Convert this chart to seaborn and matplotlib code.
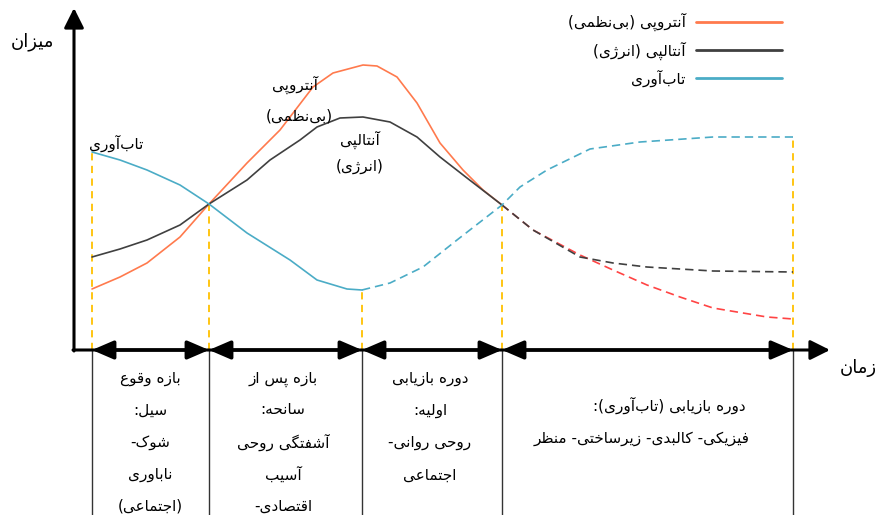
import numpy as np
import pandas as pd
import seaborn as sns
import matplotlib.pyplot as plt
from matplotlib.lines import Line2D

# time / level in conceptual units
entropy_t = [1.7, 4.5, 7.2, 10.5, 13.4, 17.2, 20.5, 21.5, 23.8, 25.8, 28.8, 30.2, 32.2, 34.2, 36.5, 38.8, 40.8, 42.7]
entropy_v = [6.1, 7.3, 8.7, 11.3, 14.6, 18.7, 22.0, 23.3, 26.3, 27.7, 28.5, 28.4, 27.3, 24.7, 20.7, 18.0, 16.0, 14.5]
entropy_future_t = [42.7, 45.8, 50.5, 53.8, 57.2, 60.5, 63.8, 69.2, 71.8]
entropy_future_v = [14.5, 12.0, 9.5, 8.0, 6.5, 5.3, 4.2, 3.3, 3.1]

enthalpy_t = [1.7, 4.5, 7.2, 10.5, 13.4, 17.2, 19.5, 22.5, 24.2, 26.5, 28.8, 31.5, 34.2, 36.5, 39.2, 42.7]
enthalpy_v = [9.3, 10.1, 11.0, 12.5, 14.6, 17.0, 19.0, 21.0, 22.3, 23.2, 23.3, 22.8, 21.3, 19.3, 17.2, 14.5]
enthalpy_future_t = [42.7, 45.8, 50.5, 53.8, 57.2, 63.8, 71.8]
enthalpy_future_v = [14.5, 12.0, 9.3, 8.7, 8.3, 7.9, 7.8]

resil_t = [1.7, 4.5, 7.2, 10.5, 13.4, 17.2, 21.5, 24.2, 27.2, 28.7]
resil_v = [19.8, 19.0, 18.0, 16.5, 14.6, 11.7, 9.0, 7.0, 6.1, 6.0]
resil_future_t = [28.7, 31.5, 34.8, 38.2, 42.7, 44.5, 47.2, 51.5, 56.5, 63.8, 71.8]
resil_future_v = [6.0, 6.7, 8.3, 11.0, 14.5, 16.3, 18.0, 20.1, 20.8, 21.3, 21.3]

phase_t = [1.7, 13.4, 28.7, 42.7, 71.8]

legend_labels = ['آنتروپی (بی‌نظمی)', 'آنتالپی (انرژی)', 'تاب‌آوری']
phase_texts = [
    ['بازه وقوع', 'سیل:', 'شوک-', 'ناباوری', '(اجتماعی)'],
    ['بازه پس از', 'سانحه:', 'آشفتگی روحی', 'آسیب', 'اقتصادی-'],
    ['دوره بازیابی', 'اولیه:', 'روحی روانی-', 'اجتماعی'],
    ['دوره بازیابی (تاب‌آوری):', 'فیزیکی- کالبدی- زیرساختی- منظر'],
]

# matplotlib does no arabic shaping, so pick presentation forms by hand
DUAL = {'ب': 0xFE8F, 'ت': 0xFE95, 'ث': 0xFE99, 'ج': 0xFE9D, 'ح': 0xFEA1, 'خ': 0xFEA5,
        'س': 0xFEB1, 'ش': 0xFEB5, 'ص': 0xFEB9, 'ض': 0xFEBD, 'ط': 0xFEC1, 'ظ': 0xFEC5,
        'ع': 0xFEC9, 'غ': 0xFECD, 'ف': 0xFED1, 'ق': 0xFED5, 'ل': 0xFEDD, 'م': 0xFEE1,
        'ن': 0xFEE5, 'ه': 0xFEE9, 'پ': 0xFB56, 'چ': 0xFB7A, 'ک': 0xFB8E, 'گ': 0xFB92,
        'ی': 0xFBFC}
RIGHT = {'ا': 0xFE8D, 'آ': 0xFE81, 'د': 0xFEA9, 'ذ': 0xFEAB, 'ر': 0xFEAD, 'ز': 0xFEAF,
         'ژ': 0xFB8A, 'و': 0xFEED}


def fa(s):
    out = []
    for i, c in enumerate(s):
        if c not in DUAL and c not in RIGHT:
            if c != '\u200c':
                out.append(c)
            continue
        prev = s[i - 1] if i > 0 else ''
        nxt = s[i + 1] if i + 1 < len(s) else ''
        jp = prev in DUAL
        jn = c in DUAL and (nxt in DUAL or nxt in RIGHT)
        base = DUAL.get(c, RIGHT.get(c))
        form = 3 if (jp and jn) else 1 if jp else 2 if jn else 0
        out.append(chr(base + form))
    mirror = {'(': ')', ')': '('}
    return ''.join(mirror.get(c, c) for c in reversed(out))


colors = {'entropy': '#FF7A4D', 'entropy_future': '#FF4444',
          'enthalpy': '#404040', 'enthalpy_future': '#404040',
          'resil': '#4BACC6', 'resil_future': '#4BACC6'}

df = pd.concat([
    pd.DataFrame({'time': entropy_t, 'value': entropy_v, 'segment': 'entropy', 'phase': 'solid'}),
    pd.DataFrame({'time': entropy_future_t, 'value': entropy_future_v, 'segment': 'entropy_future', 'phase': 'dashed'}),
    pd.DataFrame({'time': enthalpy_t, 'value': enthalpy_v, 'segment': 'enthalpy', 'phase': 'solid'}),
    pd.DataFrame({'time': enthalpy_future_t, 'value': enthalpy_future_v, 'segment': 'enthalpy_future', 'phase': 'dashed'}),
    pd.DataFrame({'time': resil_t, 'value': resil_v, 'segment': 'resil', 'phase': 'solid'}),
    pd.DataFrame({'time': resil_future_t, 'value': resil_future_v, 'segment': 'resil_future', 'phase': 'dashed'}),
], ignore_index=True)

sns.set_style('white')
plt.rcParams['font.family'] = ['DejaVu Sans']
plt.rcParams['text.color'] = 'black'

fig = plt.figure(figsize=(8.81, 5.15), dpi=100)
ax = fig.add_axes([0, 0, 1, 1])
ax.set_xlim(-7.5, 80.6)
ax.set_ylim(-16.5, 35.0)
ax.axis('off')

# yellow guide lines from the axis up to the resilience curve
all_rt = resil_t + resil_future_t[1:]
all_rv = resil_v + resil_future_v[1:]
tops = np.interp(phase_t, all_rt, all_rv)
ax.vlines(phase_t, 0, tops, colors='#FFC000', linestyles=(0, (4, 3)), lw=1.3, zorder=1)

sns.lineplot(data=df, x='time', y='value', hue='segment', style='phase',
             palette=colors, dashes={'solid': '', 'dashed': (5, 3)},
             sort=False, estimator=None, linewidth=1.2, legend=False, ax=ax, zorder=3)

# axes with arrows
head = dict(shrinkA=0, shrinkB=0, color='black', mutation_scale=20)
ax.annotate('', xy=(-0.1, 34.2), xytext=(-0.1, -0.1),
            arrowprops=dict(arrowstyle='-|>,head_length=0.6,head_width=0.3', lw=2.2, **head))
ax.annotate('', xy=(75.5, 0), xytext=(-0.2, 0),
            arrowprops=dict(arrowstyle='-|>,head_length=0.6,head_width=0.3', lw=2.2, **head))
for a, b in zip(phase_t[:-1], phase_t[1:]):
    ax.annotate('', xy=(b, 0), xytext=(a, 0),
                arrowprops=dict(arrowstyle='<|-|>,head_length=0.65,head_width=0.28', lw=2.6, **head))

# phase boxes below the axis
ax.vlines(phase_t, -16.5, 0, colors='#333333', lw=1.0)

rows_y = [-2.9, -6.0, -9.2, -12.5, -15.6]
box_x = [7.5, 20.8, 35.5]
for x, lines in zip(box_x, phase_texts[:3]):
    for y, line in zip(rows_y, lines):
        ax.text(x, y, fa(line), ha='center', va='center', fontsize=11)
ax.text(59.4, -5.5, fa(phase_texts[3][0]), ha='center', va='center', fontsize=11)
ax.text(56.7, -8.8, fa(phase_texts[3][1]), ha='center', va='center', fontsize=11)

# curve labels and axis titles
ax.text(4.1, 20.7, fa('تاب‌آوری'), ha='center', va='center', fontsize=11)
ax.text(22.0, 26.5, fa('آنتروپی'), ha='center', va='center', fontsize=11)
ax.text(22.4, 23.4, fa('(بی‌نظمی)'), ha='center', va='center', fontsize=11)
ax.text(28.5, 21.0, fa('آنتالپی'), ha='center', va='center', fontsize=11)
ax.text(28.5, 18.4, fa('(انرژی)'), ha='center', va='center', fontsize=11)
ax.text(-4.3, 30.8, fa('میزان'), ha='center', va='center', fontsize=13)
ax.text(78.3, -1.8, fa('زمان'), ha='center', va='center', fontsize=13)

handles = [Line2D([], [], color=colors['entropy'], lw=2),
           Line2D([], [], color=colors['enthalpy'], lw=2),
           Line2D([], [], color=colors['resil'], lw=2)]
fig.legend(handles, [fa(s) for s in legend_labels], loc='upper right',
           bbox_to_anchor=(782 / 881, 1 - 13 / 515), bbox_transform=fig.transFigure,
           markerfirst=False, frameon=False, fontsize=11, handlelength=5.6,
           handletextpad=0.7, labelspacing=0.66, borderpad=0, borderaxespad=0)

fig.savefig('out.png', dpi=100)
